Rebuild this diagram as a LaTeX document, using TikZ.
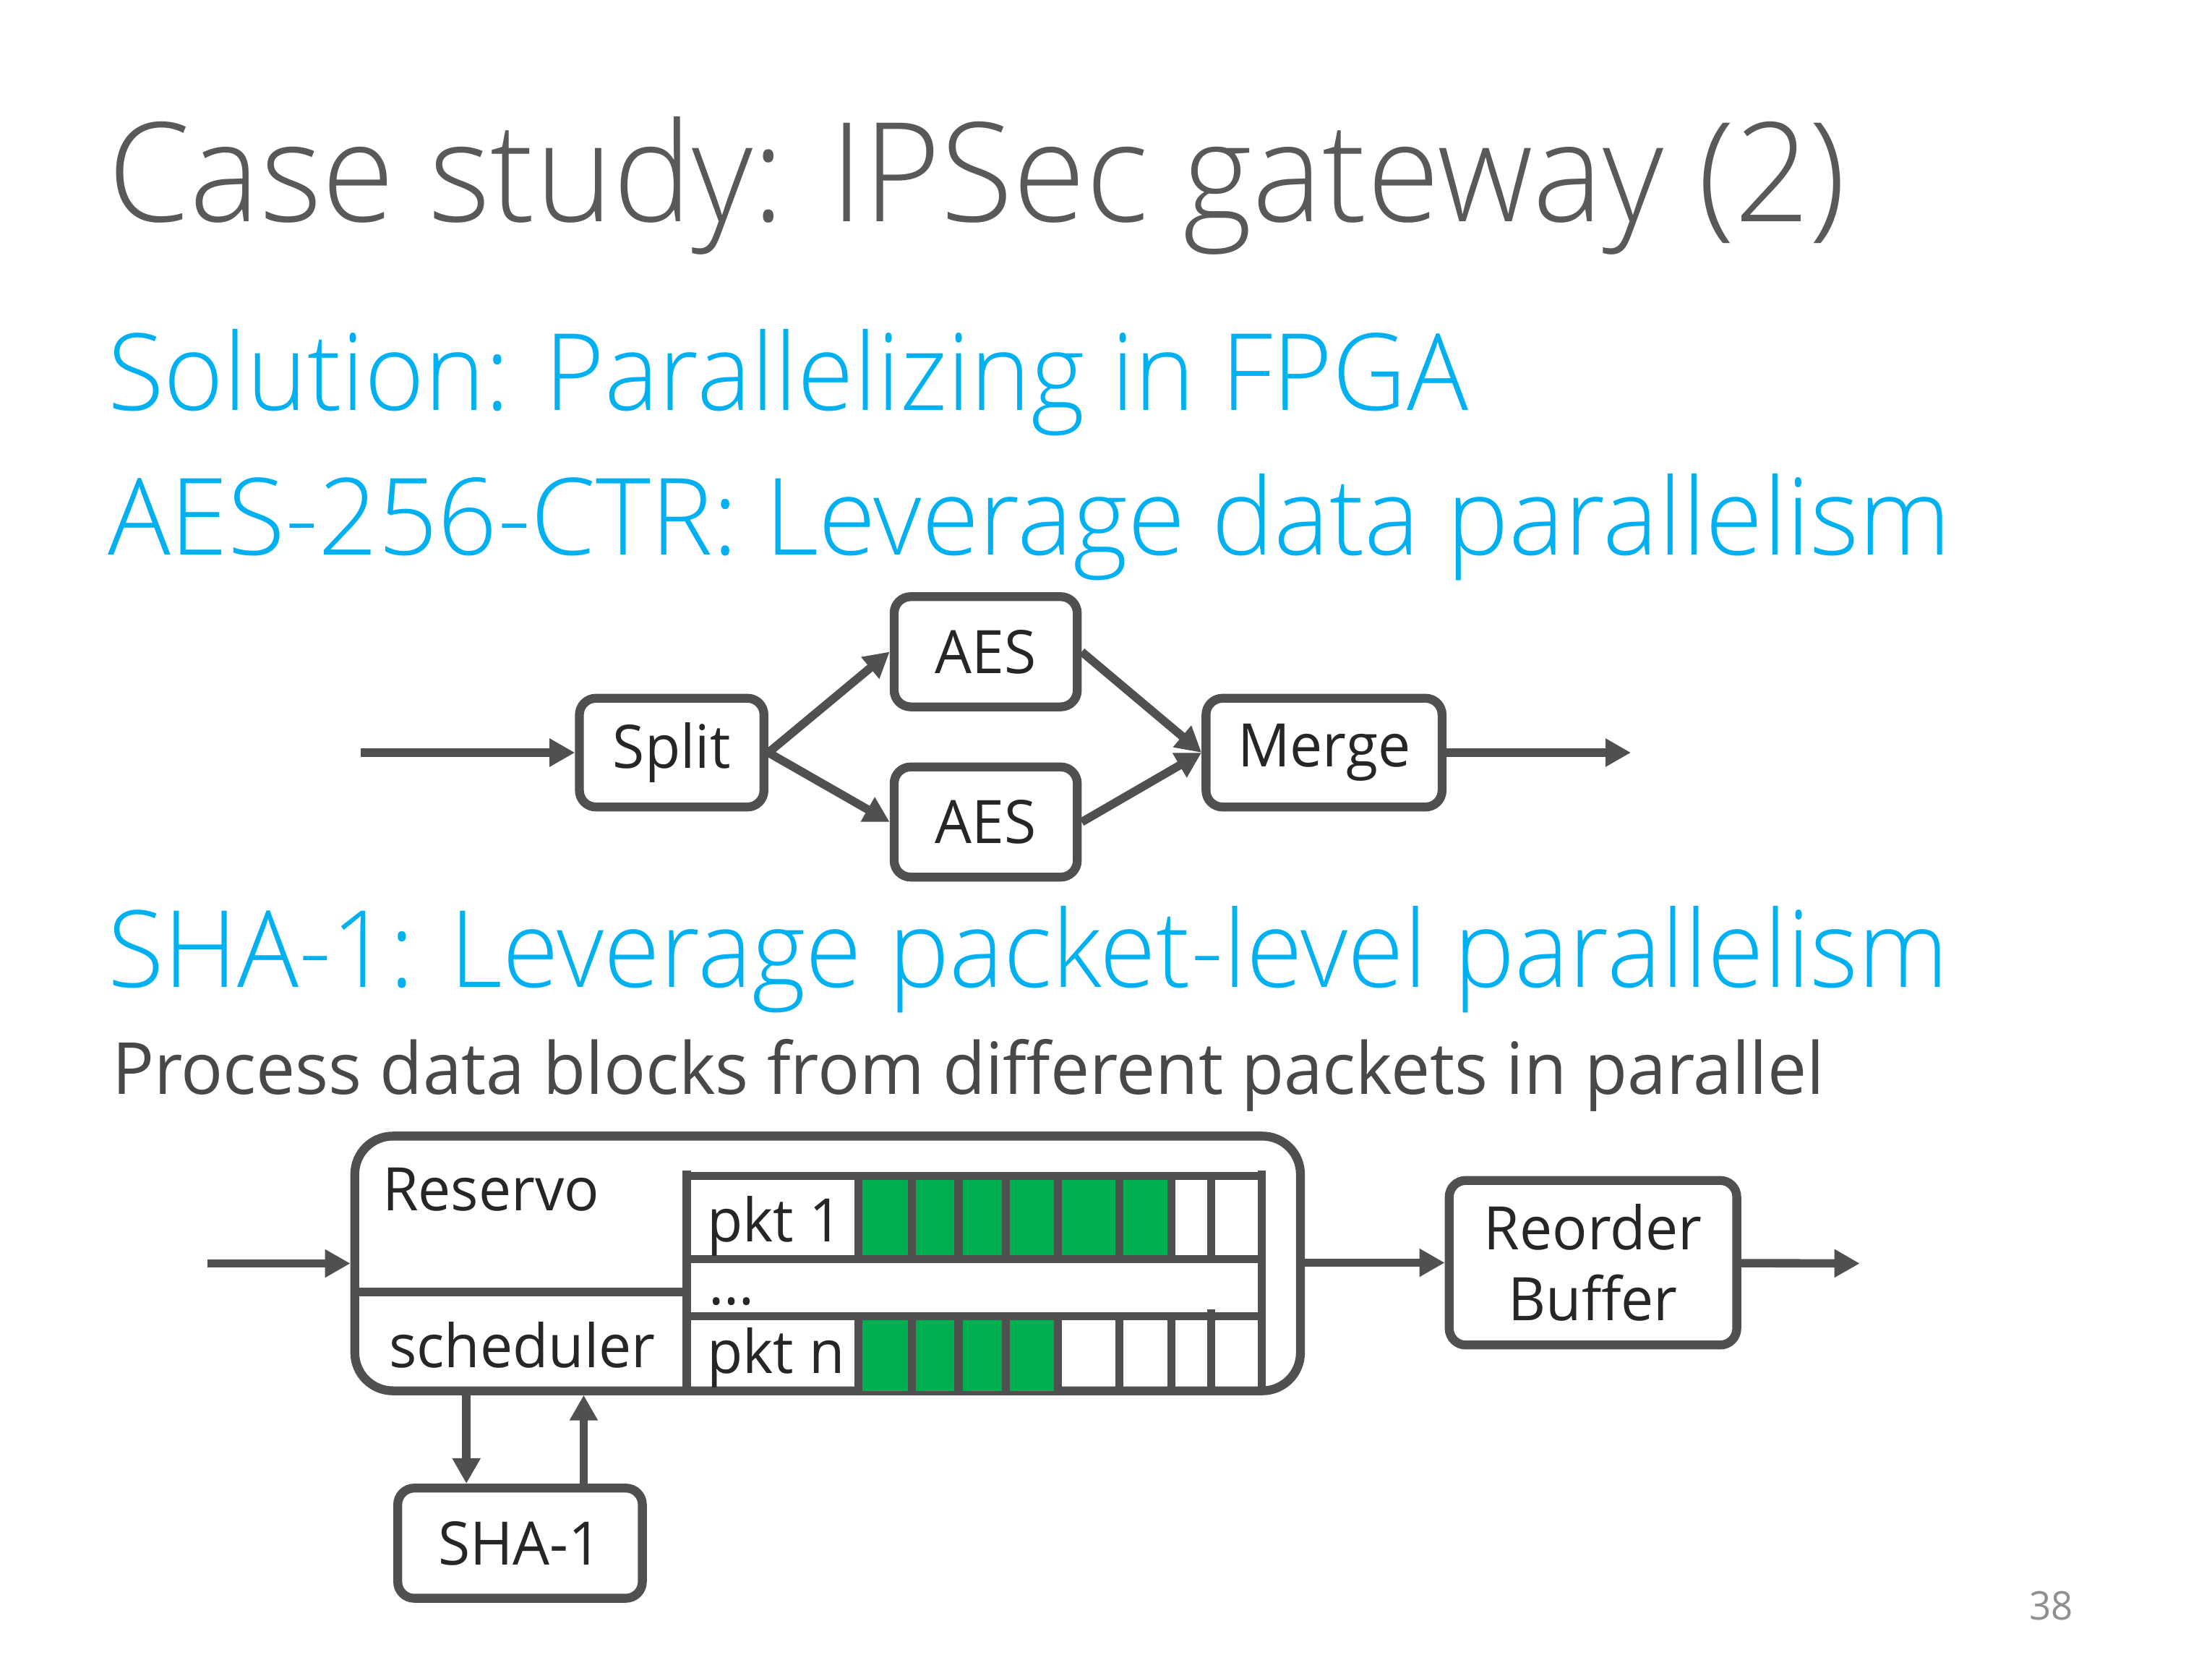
\documentclass[tikz,border=0pt]{standalone}
\usepackage{fontspec}
\setmainfont{Open Sans}[FakeStretch=0.97]
\IfFontExistsTF{Open Sans Light}{%
  \newfontfamily\lightfont{Open Sans Light}[FakeStretch=0.96]%
  \newfontfamily\lightwide{Open Sans Light}[FakeStretch=0.979]}{%
  \newfontfamily\lightfont{Open Sans}[FakeStretch=0.96]%
  \newfontfamily\lightwide{Open Sans}[FakeStretch=0.979]}
\usetikzlibrary{arrows.meta}
\definecolor{linegray}{HTML}{505050}
\definecolor{titlegray}{HTML}{595959}
\definecolor{cyanh}{HTML}{00B0F0}
\definecolor{txtdark}{HTML}{262626}
\definecolor{bodygray}{HTML}{484848}
\definecolor{pgreen}{HTML}{00B050}
\definecolor{pagegray}{HTML}{8F8F8F}
\newdimen\pxu \pxu=0.01979cm
\begin{document}
\begin{tikzpicture}[x=0.01979cm,y=-0.01979cm,
  box/.style={draw=linegray, line width=3.5pt, rounded corners=6.5pt, fill=white,
    text=txtdark, font=\fontsize{23.6}{28}\selectfont, inner sep=0pt, align=center},
  arr/.style={draw=linegray, line width=3.3pt, -{Triangle[length=10pt,width=10.5pt]}},
  ln/.style={draw=linegray, line width=3.2pt},
  lbl/.style={text=txtdark, font=\fontsize{23.6}{28}\selectfont, inner sep=0pt},
  head/.style={anchor=base west, text=cyanh, font=\lightfont\fontsize{42}{48}\selectfont, inner sep=0pt},
]
\useasboundingbox (0,0) rectangle (1546.2,1159.7);
% texts
\node[anchor=base west, text=titlegray, font=\lightfont\fontsize{54.3}{60}\selectfont, inner sep=0pt] (title) at (75,155) {Case study: IPSec gateway (2)};
\node[head] (h1) at (75,287) {Solution: Parallelizing in FPGA};
\node[head, font=\lightwide\fontsize{42}{48}\selectfont] (h2) at (75,388) {AES-256-CTR: Leverage data parallelism};
\node[head] (h3) at (75,690) {SHA-1: Leverage packet-level parallelism};
\node[anchor=base west, text=bodygray, font=\fontsize{28.3}{32}\selectfont, inner sep=0pt] (body) at (78,765) {Process data blocks from different packets in parallel};
\node[anchor=base west, text=pagegray, font=\fontsize{15.5}{18}\selectfont, inner sep=0pt] (pg) at (1418,1132) {38};

% top diagram
\node[box, minimum width=129\pxu, minimum height=76\pxu] (split) at (469.5,526) {Split};
\node[box, minimum width=128\pxu, minimum height=77\pxu] (aes1) at (689,455.5) {AES};
\node[box, minimum width=128\pxu, minimum height=77\pxu] (aes2) at (689,574.5) {AES};
\node[box, minimum width=165\pxu, minimum height=76\pxu] (merge) at (925.5,526) {Merge};
\coordinate (in1) at (252,526);
\coordinate (out1) at (1140,526);
\draw[arr] (in1) -- (split);
\draw[arr] (split.east) -- (aes1.west);
\draw[arr] (split.east) -- (aes2.west);
\draw[arr] (aes1.east) -- (merge.west);
\draw[arr] (aes2.east) -- (merge.west);
\draw[arr] (merge) -- (out1);

% bottom diagram
\node[draw=linegray, line width=3.5pt, rounded corners=15pt, minimum width=661\pxu, minimum height=178\pxu, inner sep=0pt] (res) at (578.5,883) {};
\fill[pgreen] (600,822) rectangle (819,880);
\fill[pgreen] (600,920) rectangle (739.5,972);
\draw[ln] (248,903) -- (480,903);
\draw[ln] (480,818) -- (480,972);
\draw[ln] (882,818) -- (882,972);
\draw[ln] (480,822) -- (882,822);
\draw[ln] (483,880) -- (882,880);
\draw[ln] (483,920) -- (882,920);
\foreach \x in {600,637.5,670,703,739.5,782.6,819,846.5} {
  \draw[ln] (\x,822) -- (\x,880);
  \draw[ln] (\x,920) -- (\x,972);
}
\draw[ln] (846.5,915) -- (846.5,920);
\node[lbl, anchor=base west] (reservo) at (267,846) {Reservo};
\node[lbl, anchor=base] (sched) at (365,956) {scheduler};
\node[lbl, anchor=base west] (pkt1) at (494,868) {pkt 1};
\node[lbl, anchor=base west] (dots) at (495,912) {…};
\node[lbl, anchor=base west] (pktn) at (494,960) {pkt n};

\node[box, minimum width=201\pxu, minimum height=115\pxu] (reorder) at (1113.5,882.5) {Reorder\\Buffer};
\node[box, minimum width=171\pxu, minimum height=77\pxu] (sha) at (363.5,1078.5) {SHA-1};
\coordinate (in2) at (145,883);
\coordinate (out2) at (1300,883);
\draw[arr] (in2) -- (in2 -| res.west);
\draw[arr] (res.east |- reorder) -- (reorder.west);
\draw[arr] (reorder) -- (out2);
\coordinate (dn) at (326,972);
\coordinate (up) at (408,975);
\draw[arr] (dn) -- (dn |- sha.north);
\draw[arr] (up |- sha.north) -- (up);
\end{tikzpicture}
\end{document}
